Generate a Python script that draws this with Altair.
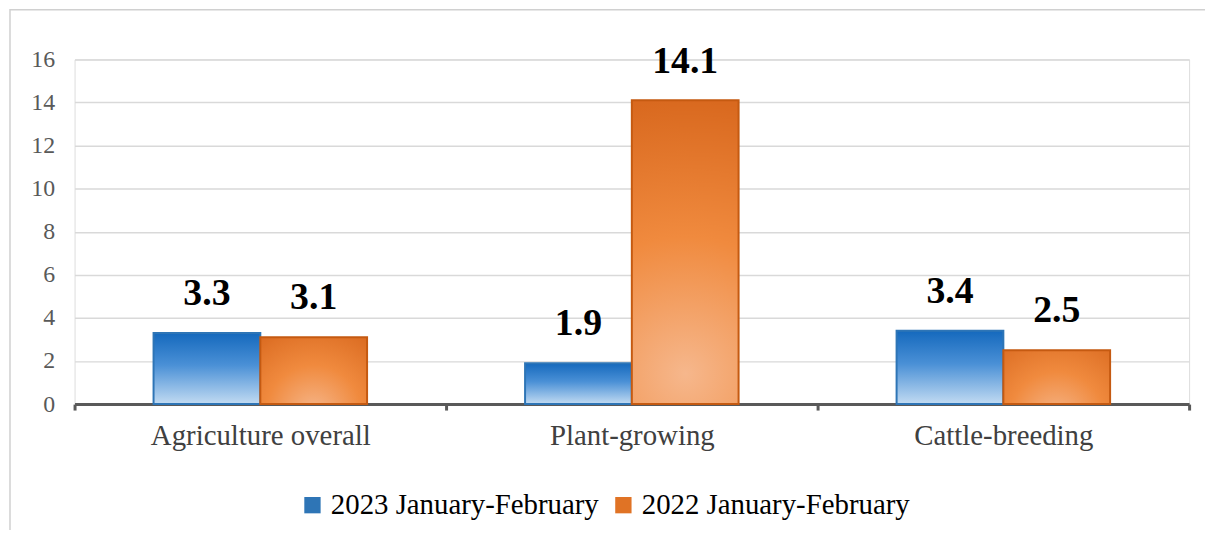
import altair as alt
import pandas as pd

categories = ["Agriculture overall", "Plant-growing", "Cattle-breeding"]
series = ["2023 January-February", "2022 January-February"]
values_2023 = [3.3, 1.9, 3.4]
values_2022 = [3.1, 14.1, 2.5]
y_ticks = [0, 2, 4, 6, 8, 10, 12, 14, 16]

rows = []
for c, a, b in zip(categories, values_2023, values_2022):
    rows.append({"category": c, "series": series[0], "value": a})
    rows.append({"category": c, "series": series[1], "value": b})
df = pd.DataFrame(rows)

FONT = "Liberation Serif"

blue_grad = {
    "gradient": "linear",
    "x1": 0, "y1": 0, "x2": 0, "y2": 1,
    "stops": [
        {"offset": 0, "color": "#1569bd"},
        {"offset": 0.45, "color": "#4a90d6"},
        {"offset": 1, "color": "#c2dbf2"},
    ],
}
orange_grad = {
    "gradient": "radial",
    "x1": 0.5, "y1": 0.9, "r1": 0,
    "x2": 0.5, "y2": 0.9, "r2": 0.9,
    "stops": [
        {"offset": 0, "color": "#f6b78c"},
        {"offset": 0.5, "color": "#f08a3e"},
        {"offset": 1, "color": "#d9691f"},
    ],
}

x_enc = alt.X(
    "category:N",
    sort=categories,
    title=None,
    scale=alt.Scale(paddingInner=0, paddingOuter=0),
    axis=alt.Axis(
        labelAngle=0,
        labelFont=FONT,
        labelFontSize=29,
        labelColor="#404040",
        labelPadding=12,
        labelLimit=0,
        domainColor="#595959",
        domainWidth=3,
        tickColor="#595959",
        tickWidth=3,
        tickSize=6,
        tickBand="extent",
        grid=False,
    ),
)
xoff = alt.XOffset("series:N", sort=series, scale=alt.Scale(paddingOuter=0.74, paddingInner=0))
y_enc = alt.Y(
    "value:Q",
    title=None,
    scale=alt.Scale(domain=[0, 16], nice=False),
    axis=alt.Axis(
        values=y_ticks,
        labelFont=FONT,
        labelFontSize=24,
        labelColor="#595959",
        labelPadding=20,
        ticks=False,
        domain=False,
        grid=True,
        gridColor="#d9d9d9",
        gridWidth=1.5,
    ),
)

base = alt.Chart(df).encode(x=x_enc, xOffset=xoff, y=y_enc)

legend_bars = base.mark_bar(strokeWidth=2).encode(
    color=alt.Color(
        "series:N",
        sort=series,
        scale=alt.Scale(domain=series, range=["#2e75b6", "#e07325"]),
        legend=alt.Legend(
            title=None,
            orient="none",
            direction="horizontal",
            legendX=225,
            legendY=434,
            symbolType="square",
            symbolSize=270,
            symbolStrokeWidth=1,
            labelFont=FONT,
            labelFontSize=29,
            labelColor="#000000",
            labelLimit=0,
            columnPadding=10,
            labelOffset=4,
            padding=0,
        ),
    ),
)

bars_2023 = base.transform_filter(alt.datum.series == series[0]).mark_bar(
    fill=blue_grad, stroke="#2e75b6", strokeWidth=2
)
bars_2022 = base.transform_filter(alt.datum.series == series[1]).mark_bar(
    fill=orange_grad, stroke="#c55a11", strokeWidth=2
)

labels = base.mark_text(
    font=FONT, fontSize=38, fontWeight="bold", color="#000000", dy=-20, baseline="bottom"
).encode(text=alt.Text("value:Q", format=".1f"))

border = alt.Chart(pd.DataFrame({"a": [0]})).mark_rect(
    fill=None, stroke="#d0d0d0", strokeWidth=1.5
).encode(
    x=alt.value(-65), x2=alt.value(1160), y=alt.value(-50), y2=alt.value(500)
)

chart = alt.layer(border, legend_bars, bars_2023, bars_2022, labels).properties(
    width=1122,
    height=347,
    autosize=alt.AutoSizeParams(type="none"),
    padding={"left": 67, "top": 50, "right": 16, "bottom": 125},
).configure_view(stroke=None).configure(background="white")

chart.save("out.html", embed_options={"renderer": "svg", "actions": False})
